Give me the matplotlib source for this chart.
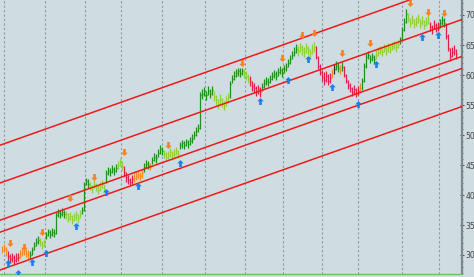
import matplotlib
matplotlib.use("Agg")
import matplotlib.pyplot as plt
import numpy as np
from matplotlib.path import Path
from matplotlib.ticker import MultipleLocator

# daily bars (close / high / low)
closes = [
    30.9, 31.2, 30.8, 29.8, 29.4, 29.6, 29.2, 29.5, 29.7, 30.2, 30.5, 30.7, 30.3, 30.1,
    30.0, 30.8, 31.5, 32.2, 32.5, 32.2, 31.7, 32.0, 33.3, 33.8, 33.5, 33.9, 33.6,
    36.7, 37.0, 36.8, 37.2, 36.9, 36.8, 36.2, 36.5, 35.9, 36.3, 36.6, 36.1, 36.9, 37.5,
    41.7, 42.3, 41.9, 41.5, 41.0, 41.8, 41.3, 40.9, 41.4, 41.8, 41.2,
    43.6, 44.0, 43.8, 44.3, 44.0, 44.5, 45.0, 45.5, 44.8, 43.8, 43.0, 42.5, 42.2, 42.6, 42.9, 43.2, 43.4, 43.2, 43.6,
    44.6, 45.2, 45.0, 44.8, 45.8, 46.3, 46.1, 47.0, 47.6, 47.3, 46.8, 46.4, 46.7, 47.1, 46.6, 46.9, 47.3, 46.8, 48.3, 48.6, 48.4, 48.8, 48.5,
    49.0, 49.4, 50.0, 50.6, 51.2, 56.7, 56.8, 57.3, 56.6, 57.4, 56.9, 57.5, 56.5, 55.8, 55.2, 56.0, 55.4, 54.9, 55.7, 56.3,
    58.5, 59.3, 59.9, 60.3, 60.6, 60.4, 60.7, 60.3, 59.9, 59.4, 59.0, 58.2, 57.8, 57.3, 57.6, 57.2,
    58.0, 58.6, 59.0, 58.8, 59.3, 59.8, 60.2, 59.9, 60.5, 60.8, 60.4, 61.0, 61.3, 62.0, 62.6, 63.3, 63.9, 64.4, 64.0, 64.6, 64.2, 63.8, 64.5, 64.1, 63.6, 64.3, 64.7,
    63.0, 61.5, 60.5, 59.6, 59.2, 59.8, 59.0, 59.5, 60.3, 61.0, 61.5, 61.2, 60.8, 61.4, 60.0, 59.0, 58.4, 57.8, 57.2, 57.6, 57.0, 57.4, 57.8,
    59.0, 61.5, 63.0, 63.3, 62.7, 63.0, 62.6, 63.4, 63.9, 64.2, 63.8, 64.5, 64.1, 64.6, 64.3, 64.8, 65.0, 64.6, 65.2,
    66.0, 67.5, 68.8, 70.2, 69.5, 68.7, 69.2, 68.5, 68.9, 69.4, 68.6, 69.0, 68.4, 68.8, 69.2, 68.0, 67.6, 68.3, 67.8, 68.1, 68.6, 69.1, 68.7, 66.5, 64.5, 63.2, 63.8, 64.2, 63.5,
]
highs = [
    31.5, 31.8, 31.4, 30.6, 30.2, 30.3, 30.0, 30.4, 30.3, 30.9, 31.1, 31.3, 31.0, 30.8,
    30.6, 31.4, 32.2, 32.8, 33.1, 32.9, 32.4, 32.6, 33.9, 34.4, 34.1, 34.5, 34.3,
    37.1, 37.6, 37.5, 37.8, 37.5, 37.4, 37.0, 37.1, 36.6, 37.0, 37.3, 36.8, 37.5, 38.0,
    42.2, 42.9, 42.6, 42.2, 41.7, 42.5, 42.0, 41.6, 42.1, 42.5, 41.9,
    44.2, 44.7, 44.5, 45.0, 44.7, 45.2, 45.7, 46.1, 45.6, 44.9, 43.9, 43.3, 42.9, 43.3, 43.6, 43.9, 44.0, 43.9, 44.3,
    45.3, 45.9, 45.7, 45.4, 46.4, 47.0, 46.8, 47.7, 48.3, 48.0, 47.5, 47.1, 47.4, 47.8, 47.3, 47.6, 48.0, 47.5, 48.9, 49.2, 49.0, 49.4, 49.1,
    49.6, 50.1, 50.7, 51.3, 51.9, 57.2, 57.6, 58.0, 57.4, 58.1, 57.7, 58.2, 57.3, 56.6, 56.0, 56.8, 56.2, 55.7, 56.5, 57.0,
    59.0, 60.0, 60.6, 61.0, 61.2, 61.1, 61.2, 61.0, 60.6, 60.1, 59.8, 59.0, 58.6, 58.1, 58.4, 58.0,
    58.7, 59.3, 59.7, 59.5, 60.0, 60.5, 60.9, 60.6, 61.2, 61.5, 61.1, 61.7, 62.0, 62.7, 63.3, 64.0, 64.6, 65.1, 64.8, 65.3, 65.0, 64.6, 65.3, 64.9, 64.4, 65.1, 65.5,
    64.8, 63.2, 61.8, 60.8, 60.5, 60.6, 60.2, 60.3, 61.0, 61.8, 62.3, 62.0, 61.6, 62.1, 61.5, 60.2, 59.2, 58.6, 58.0, 58.4, 57.8, 58.2, 58.6,
    59.5, 62.0, 63.6, 64.0, 63.4, 63.7, 63.3, 64.1, 64.6, 64.9, 64.5, 65.2, 64.8, 65.3, 65.0, 65.5, 65.7, 65.3, 65.9,
    66.4, 68.0, 69.5, 71.0, 70.3, 69.5, 70.0, 69.3, 69.7, 70.1, 69.4, 69.8, 69.2, 69.6, 70.0, 68.9, 68.4, 69.1, 68.6, 68.9, 69.4, 69.9, 69.5, 68.7, 66.8, 64.5, 64.7, 65.0, 64.4,
]
lows = [
    30.3, 30.5, 29.9, 29.0, 28.7, 28.9, 28.5, 28.8, 29.0, 29.5, 29.8, 30.0, 29.6, 29.4,
    29.4, 30.0, 30.8, 31.5, 31.8, 31.5, 31.0, 31.3, 32.6, 33.1, 32.9, 33.2, 33.0,
    33.5, 36.3, 36.1, 36.5, 36.2, 36.0, 35.5, 35.8, 35.2, 35.6, 35.9, 35.4, 36.2, 36.8,
    37.4, 41.6, 41.2, 40.8, 40.3, 41.1, 40.6, 40.2, 40.7, 41.1, 40.5,
    42.0, 43.3, 43.1, 43.6, 43.3, 43.8, 44.3, 44.8, 44.1, 43.2, 42.2, 41.8, 41.6, 41.9, 42.2, 42.5, 42.7, 42.5, 42.9,
    43.9, 44.5, 44.3, 44.1, 45.1, 45.6, 45.4, 46.3, 46.9, 46.6, 46.1, 45.7, 46.0, 46.4, 45.9, 46.2, 46.6, 46.1, 47.6, 47.9, 47.7, 48.1, 47.8,
    48.3, 48.7, 49.3, 49.9, 50.5, 51.0, 56.0, 56.5, 55.8, 56.6, 56.1, 56.7, 55.7, 55.0, 54.4, 55.2, 54.6, 54.1, 54.9, 55.5,
    56.2, 58.6, 59.2, 59.6, 59.9, 59.7, 60.0, 59.5, 59.2, 58.7, 58.2, 57.4, 57.0, 56.5, 56.8, 56.4,
    57.3, 57.9, 58.3, 58.1, 58.6, 59.1, 59.5, 59.2, 59.8, 60.1, 59.7, 60.3, 60.6, 61.3, 61.9, 62.6, 63.2, 63.7, 63.2, 63.8, 63.4, 63.0, 63.7, 63.3, 62.8, 63.5, 63.9,
    62.6, 61.0, 60.0, 59.0, 58.4, 58.8, 58.3, 58.7, 59.5, 60.2, 60.8, 60.5, 60.1, 60.7, 59.6, 58.6, 57.7, 57.1, 56.5, 56.9, 56.3, 56.7, 57.0,
    57.5, 58.8, 61.2, 62.6, 62.0, 62.3, 61.9, 62.7, 63.2, 63.5, 63.1, 63.8, 63.4, 63.9, 63.6, 64.1, 64.3, 63.9, 64.5,
    65.2, 65.8, 67.3, 68.6, 68.8, 68.0, 68.5, 67.8, 68.2, 68.7, 67.9, 68.3, 67.7, 68.1, 68.5, 67.3, 66.9, 67.6, 67.1, 67.4, 67.9, 68.4, 68.0, 66.0, 64.0, 62.4, 63.0, 63.3, 62.7,
]
# runs of bar colours: o = orange, r = red, g = dark green, l = light green, k = black
color_runs = [
    ("o", 3), ("r", 6), ("o", 5),
    ("g", 5), ("l", 3), ("g", 5),
    ("g", 5), ("l", 8), ("g", 1),
    ("g", 3), ("l", 8),
    ("g", 6), ("l", 3), ("r", 5), ("o", 5),
    ("g", 3), ("o", 1), ("g", 6), ("l", 8), ("g", 5),
    ("g", 12), ("l", 8),
    ("g", 7), ("l", 3), ("r", 6),
    ("g", 18), ("l", 9),
    ("r", 8), ("o", 1), ("k", 1), ("g", 2), ("o", 1), ("g", 1), ("r", 8), ("o", 1),
    ("g", 7), ("l", 12),
    ("g", 4), ("l", 11), ("r", 5), ("g", 3), ("r", 6),
]

# signal arrows: bar index and price
sell_idx = [4, 11, 20, 34, 46, 61, 83, 120, 140, 150, 156, 170, 184, 204, 213, 221]
sell_px = [32.0, 31.3, 33.8, 39.5, 43.0, 47.2, 48.3, 62.0, 62.8, 66.7, 67.0, 63.7, 65.3, 72.0, 70.5, 70.4]
buy_idx = [3, 8, 15, 22, 37, 52, 68, 89, 129, 143, 153, 165, 178, 187, 210, 218]
buy_px = [28.7, 27.0, 28.8, 30.3, 34.8, 40.5, 41.5, 45.3, 55.7, 59.2, 62.7, 58.0, 55.2, 61.8, 66.3, 66.7]

# trend channel lines (price at left edge / right edge)
channel_start = [48.3, 42.0, 35.8, 33.8, 27.5]
channel_end = [75.6, 69.25, 63.1, 61.1, 54.75]

month_starts = [1, 21.5, 41.5, 59.5, 80, 101.5, 121.5, 140.5, 160, 178, 200, 218.5]
y_ticks = [30, 35, 40, 45, 50, 55, 60, 65, 70]

palette = {"o": "#f28a26", "r": "#e0204c", "g": "#1f8f1f", "l": "#8fcf3c", "k": "#333333"}
bg = "#cfdde3"

up = Path([(0, 1), (0.95, 0.05), (0.38, 0.05), (0.38, -1), (-0.38, -1), (-0.38, 0.05), (-0.95, 0.05), (0, 1)],
          [Path.MOVETO] + [Path.LINETO] * 6 + [Path.CLOSEPOLY])
down = Path(up.vertices * [1, -1], up.codes)

fig = plt.figure(figsize=(4.74, 2.77), dpi=100, facecolor=bg)
ax = fig.add_axes([0, 3 / 277, 462 / 474, 274 / 277])
ax.set_facecolor(bg)

for m in month_starts:
    ax.axvline(m, color="#8e999f", lw=0.8, ls=(0, (2, 2)), zorder=0)

closes = np.array(closes)
highs = np.array(highs)
lows = np.array(lows)
x = np.arange(len(closes))
codes = np.array([c for c, n in color_runs for _ in range(n)])
for code, col in palette.items():
    m = codes == code
    ax.vlines(x[m], lows[m], highs[m], color=col, lw=0.9, zorder=2)
    ax.hlines(closes[m], x[m], x[m] + 0.6, color=col, lw=0.9, zorder=2)

for s, e in zip(channel_start, channel_end):
    ax.plot([-1, 230], [s, e], color="#ee1a1a", lw=1.1, zorder=3)

ax.plot(sell_idx, sell_px, ls="none", marker=down, ms=5, color="#f5821f", mec="none", zorder=4)
ax.plot(buy_idx, buy_px, ls="none", marker=up, ms=5, color="#1a7fe6", mec="none", zorder=4)

ax.set_xlim(-1, 230)
ax.set_ylim(72.5 - 274 / 6, 72.5)
ax.set_xticks([])
ax.yaxis.tick_right()
ax.set_yticks(y_ticks)
ax.yaxis.set_minor_locator(MultipleLocator(1))
ax.tick_params(axis="y", which="major", length=3, width=0.8, color="#555555", pad=1,
               labelsize=5.5, labelcolor="#444444", direction="inout")
ax.tick_params(axis="y", which="minor", length=2, width=0.6, color="#555555", direction="inout")
for s in ["left", "top"]:
    ax.spines[s].set_visible(False)
ax.spines["right"].set_color("#7d868b")
ax.spines["right"].set_linewidth(1.6)
ax.spines["bottom"].set_color("#6cc26c")
ax.spines["bottom"].set_linewidth(1.0)

fig.savefig("out.png", dpi=100, facecolor=bg)
